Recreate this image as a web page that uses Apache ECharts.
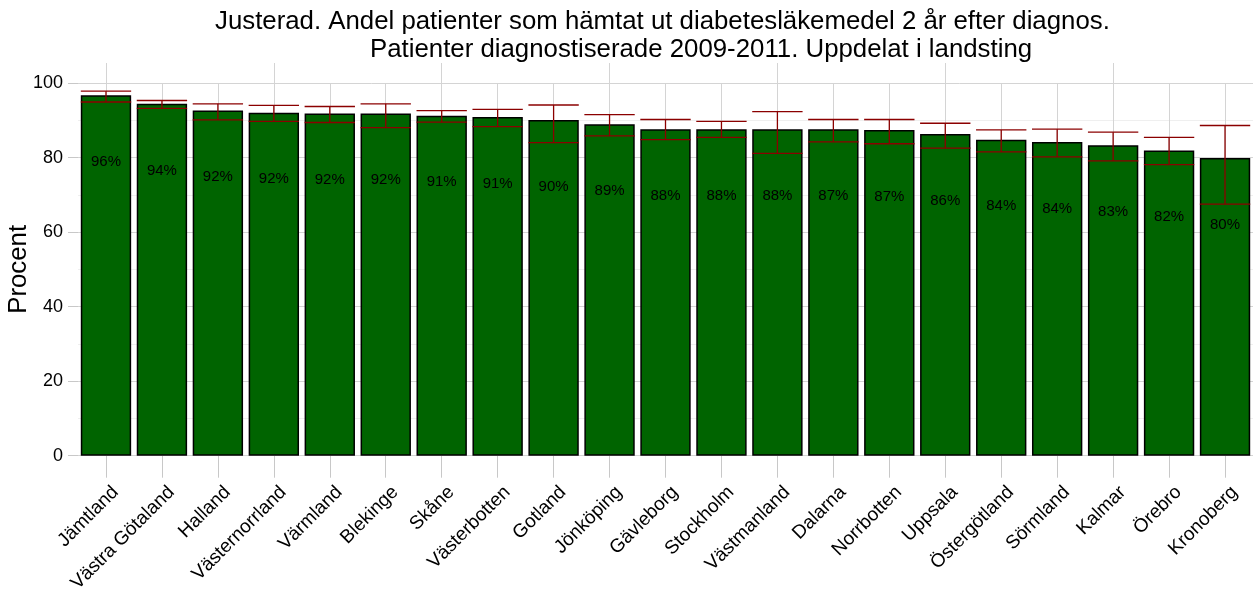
<!DOCTYPE html>
<html>
<head>
<meta charset="utf-8">
<script src="https://cdn.jsdelivr.net/npm/echarts@6/dist/echarts.min.js"></script>
<style>
  html, body { margin: 0; padding: 0; background: #fff; }
  #chart { width: 1257px; height: 590px; }
</style>
</head>
<body>
<div id="chart"></div>
<script>
// landsting, sorterade som i originalet
const regions = ['Jämtland', 'Västra Götaland', 'Halland', 'Västernorrland', 'Värmland', 'Blekinge',
  'Skåne', 'Västerbotten', 'Gotland', 'Jönköping', 'Gävleborg', 'Stockholm', 'Västmanland',
  'Dalarna', 'Norrbotten', 'Uppsala', 'Östergötland', 'Sörmland', 'Kalmar', 'Örebro', 'Kronoberg'];
const andel = [96.7, 94.4, 92.6, 92.0, 91.8, 91.8, 91.2, 90.9, 90.1, 88.9, 87.6,
  87.6, 87.6, 87.6, 87.4, 86.3, 84.8, 84.2, 83.3, 81.9, 79.9];
const lower = [94.9, 93.2, 90.1, 89.7, 89.4, 88.0, 89.5, 88.3, 84.0, 85.8, 84.8,
  85.4, 81.1, 84.2, 83.7, 82.5, 81.5, 80.2, 79.1, 78.1, 67.5];
const upper = [97.8, 95.3, 94.4, 94.0, 93.7, 94.4, 92.6, 92.9, 94.1, 91.5, 90.2,
  89.7, 92.3, 90.2, 90.2, 89.2, 87.4, 87.6, 86.8, 85.4, 88.6];
const labels = ['96%', '94%', '92%', '92%', '92%', '92%', '91%', '91%', '90%', '89%', '88%',
  '88%', '88%', '87%', '87%', '86%', '84%', '84%', '83%', '82%', '80%'];
const yTicks = [0, 20, 40, 60, 80, 100];

const font = 'Liberation Sans';
const gridColor = '#d4d4d4';

const errData = regions.map((r, i) => [i, lower[i], upper[i]]);

const myChart = echarts.init(document.getElementById('chart'), null, { renderer: 'canvas' });
const option = {
  animation: false,
  backgroundColor: '#fff',
  title: [
    {
      text: 'Justerad. Andel patienter som hämtat ut diabetesläkemedel 2 år efter diagnos.',
      left: 215, top: 9, padding: 0,
      textStyle: { fontFamily: font, fontSize: 25.8, fontWeight: 'normal', color: '#000' }
    },
    {
      text: 'Patienter diagnostiserade 2009-2011. Uppdelat i landsting',
      left: 370, top: 37, padding: 0,
      textStyle: { fontFamily: font, fontSize: 25.8, fontWeight: 'normal', color: '#000' }
    }
  ],
  grid: { left: 78, right: 4, top: 83, bottom: 134.3, containLabel: false, outerBoundsMode: 'none' },
  xAxis: [
    {
      type: 'category',
      data: regions,
      axisLine: { show: false },
      axisTick: { show: true, alignWithLabel: true, length: 22, lineStyle: { color: '#c8c8c8', width: 1 } },
      axisLabel: {
        rotate: 45, interval: 0, margin: 24,
        align: 'right', verticalAlign: 'top', padding: [4, 0, 0, 0],
        fontFamily: font, fontSize: 19, color: '#000'
      },
      splitLine: { show: true, alignWithLabel: true, lineStyle: { color: gridColor, width: 1 } }
    },
    {
      type: 'category',
      position: 'top',
      data: regions,
      axisLine: { show: false },
      axisTick: { show: true, alignWithLabel: true, length: 20, lineStyle: { color: gridColor, width: 1 } },
      axisLabel: { show: false },
      splitLine: { show: false }
    }
  ],
  yAxis: {
    type: 'value',
    min: yTicks[0],
    max: yTicks[yTicks.length - 1],
    interval: 20,
    name: 'Procent',
    nameLocation: 'middle',
    nameGap: 46,
    nameMoveOverlap: false,
    nameRotate: 90,
    nameTextStyle: { fontFamily: font, fontSize: 25.8, color: '#000' },
    axisLine: { show: false },
    axisTick: { show: true, length: 10, lineStyle: { color: '#c8c8c8' } },
    axisLabel: { margin: 15, fontFamily: font, fontSize: 18, color: '#000' },
    splitLine: { show: true, lineStyle: { color: gridColor, width: 1 } },
    minorTick: { show: false, splitNumber: 2 },
    minorSplitLine: { show: true, lineStyle: { color: '#efefef', width: 1 } }
  },
  series: [
    {
      type: 'bar',
      data: andel,
      barWidth: '90%',
      itemStyle: { color: '#006400', borderColor: '#000', borderWidth: 1.5 },
      label: {
        show: true,
        position: 'insideTop',
        distance: 59,
        fontFamily: font,
        fontSize: 15,
        color: '#000',
        formatter: p => labels[p.dataIndex]
      },
      z: 2
    },
    {
      type: 'custom',
      data: errData,
      encode: { x: 0, y: [1, 2] },
      z: 3,
      renderItem: function (params, api) {
        const x = api.value(0);
        const lo = api.coord([x, api.value(1)]);
        const hi = api.coord([x, api.value(2)]);
        const half = api.size([1, 0])[0] * 0.45;
        const style = { stroke: '#8b0000', lineWidth: 1.3 };
        return {
          type: 'group',
          children: [
            { type: 'line', shape: { x1: hi[0], y1: hi[1], x2: lo[0], y2: lo[1] }, style },
            { type: 'line', shape: { x1: hi[0] - half, y1: hi[1], x2: hi[0] + half, y2: hi[1] }, style },
            { type: 'line', shape: { x1: lo[0] - half, y1: lo[1], x2: lo[0] + half, y2: lo[1] }, style }
          ]
        };
      }
    }
  ]
};
myChart.setOption(option);
</script>
</body>
</html>
